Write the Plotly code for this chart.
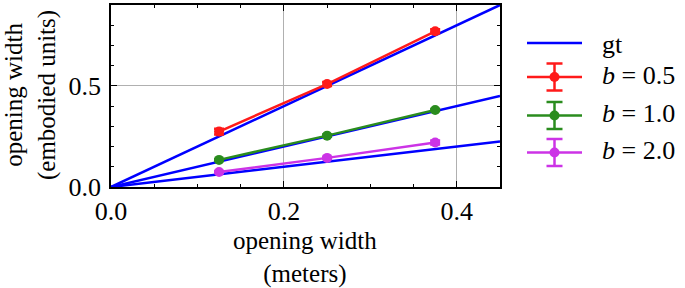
import plotly.graph_objects as go

# ---- data ----
x_vals = [0.125, 0.25, 0.375]
gt_slopes = [2.0, 1.0, 0.5]
x_max = 0.45
y_max = 0.9
x_ticks = [0.0, 0.2, 0.4]
x_tick_labels = ["0.0", "0.2", "0.4"]
y_ticks = [0.0, 0.5]
y_tick_labels = ["0.0", "0.5"]
x_title = "opening width<br>(meters)"
y_title = "opening width<br>(embodied units)"
series_names = ["<i>b</i> = 0.5", "<i>b</i> = 1.0", "<i>b</i> = 2.0"]
series_y = [
    [0.274, 0.509, 0.770],
    [0.134, 0.254, 0.381],
    [0.074, 0.144, 0.220],
]
series_err = [
    [0.014, 0.010, 0.010],
    [0.005, 0.005, 0.005],
    [0.005, 0.006, 0.010],
]
series_colors = ["#ff1a1a", "#2a8c1e", "#cc33e6"]
gt_color = "#0000ff"

FONT = "Liberation Serif"
FS = 26
FS_T = 25

W, H = 685, 288
ML, MR, MT, MB = 111, 185, 5, 101
PW, PH = W - ML - MR, H - MT - MB


def px_x(p):
    return (p - ML) / PW


def px_y(p):
    return (H - MB - p) / PH


fig = go.Figure()

gx, gy = [], []
for s in gt_slopes:
    gx += [0, x_max, None]
    gy += [0, s * x_max, None]
fig.add_trace(go.Scatter(x=gx, y=gy, mode="lines", name="gt",
                         line=dict(color=gt_color, width=2.5), showlegend=False))

for name, ys, es, c in zip(series_names, series_y, series_err, series_colors):
    fig.add_trace(go.Scatter(
        x=x_vals, y=ys, mode="lines+markers", name=name, showlegend=False,
        line=dict(color=c, width=2.5),
        marker=dict(color=c, size=10),
        error_y=dict(type="data", array=es, visible=True, color=c, thickness=2.5, width=5),
    ))

axis_common = dict(
    showline=True, linecolor="black", linewidth=1.5, mirror="allticks",
    ticks="inside", tickcolor="black", ticklen=6, tickwidth=1,
    showgrid=True, gridcolor="#b0b0b0", gridwidth=1, zeroline=False,
    tickfont=dict(family=FONT, size=FS, color="black"), automargin=False,
)

fig.update_xaxes(range=[0, x_max], tickvals=x_ticks, ticktext=x_tick_labels,
                 minor=dict(dtick=0.05, tick0=0, ticks="inside", ticklen=3, tickcolor="black", showgrid=False),
                 ticklabelstandoff=0, **axis_common)
fig.update_yaxes(range=[0, y_max], tickvals=y_ticks, ticktext=y_tick_labels,
                 minor=dict(dtick=0.1, tick0=0, ticks="inside", ticklen=3, tickcolor="black", showgrid=False),
                 ticklabelstandoff=3, **axis_common)

annotations = [
    dict(text=x_title, xref="paper", yref="paper", x=px_x(305), y=px_y(257.5),
         xanchor="center", yanchor="middle", showarrow=False,
         font=dict(family=FONT, size=FS_T, color="black")),
    dict(text=y_title, xref="paper", yref="paper", x=px_x(30), y=px_y(95),
         xanchor="center", yanchor="middle", showarrow=False, textangle=-90,
         font=dict(family=FONT, size=FS_T, color="black")),
]

# manual legend
shapes = []
leg_rows = [43, 77, 115.5, 152.5]
leg_names = ["gt"] + series_names
leg_colors = [gt_color] + series_colors
x0, x1, xm = 527, 582, 554.5
for i, (ry, nm, c) in enumerate(zip(leg_rows, leg_names, leg_colors)):
    shapes.append(dict(type="line", xref="paper", yref="paper", x0=px_x(x0), x1=px_x(x1),
                       y0=px_y(ry), y1=px_y(ry), line=dict(color=c, width=2.5)))
    if i > 0:
        top, bot, cap = ry - 13.5, ry + 13.5, 8
        shapes.append(dict(type="line", xref="paper", yref="paper", x0=px_x(xm), x1=px_x(xm),
                           y0=px_y(top), y1=px_y(bot), line=dict(color=c, width=2.5)))
        for yy in (top, bot):
            shapes.append(dict(type="line", xref="paper", yref="paper", x0=px_x(xm - cap), x1=px_x(xm + cap),
                               y0=px_y(yy), y1=px_y(yy), line=dict(color=c, width=2.5)))
        r = 5
        shapes.append(dict(type="circle", xref="paper", yref="paper", x0=px_x(xm - r), x1=px_x(xm + r),
                           y0=px_y(ry - r), y1=px_y(ry + r), fillcolor=c, line=dict(color=c, width=0)))
    annotations.append(dict(text=nm, xref="paper", yref="paper", x=px_x(600), y=px_y(ry - 2 if i else ry + 1),
                            xanchor="left", yanchor="middle", showarrow=False,
                            font=dict(family=FONT, size=FS, color="black")))

fig.update_layout(
    width=W, height=H,
    margin=dict(l=ML, r=MR, t=MT, b=MB),
    plot_bgcolor="white", paper_bgcolor="white",
    font=dict(family=FONT, size=FS, color="black"),
    showlegend=False,
    annotations=annotations, shapes=shapes,
)

fig.write_html("out.html", config={"displayModeBar": False},
               post_script="document.body.style.margin='0px';")
